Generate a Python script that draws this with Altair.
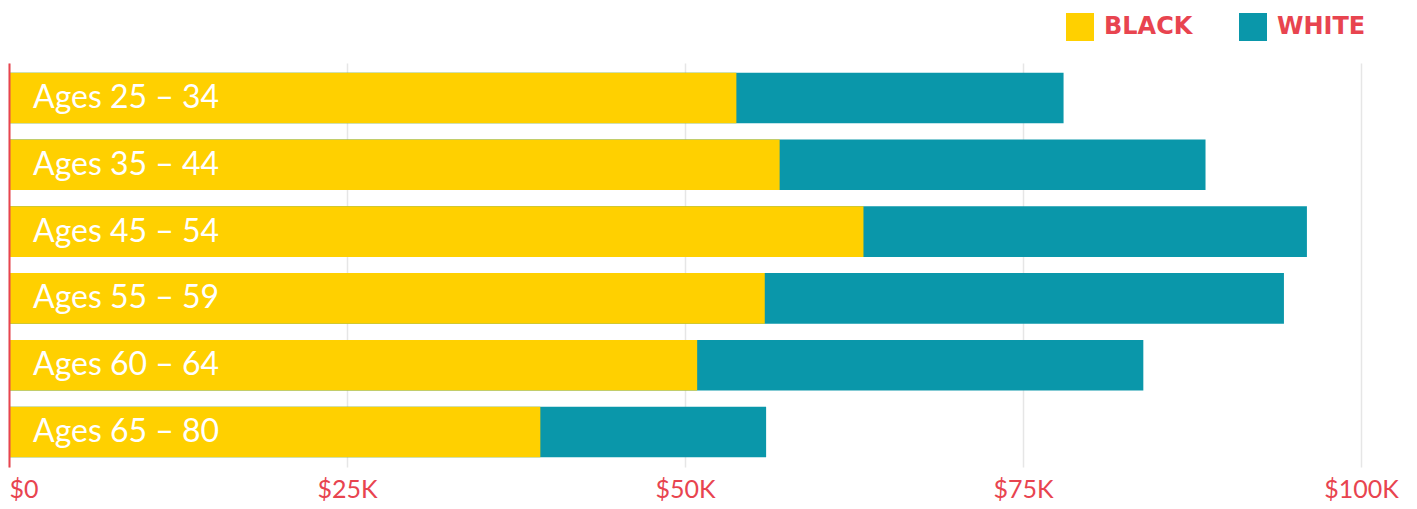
import altair as alt
import pandas as pd

ages = ["Ages 25 – 34", "Ages 35 – 44", "Ages 45 – 54", "Ages 55 – 59", "Ages 60 – 64", "Ages 65 – 80"]
black = [53800, 57000, 63200, 55900, 50900, 39300]
white = [78000, 88500, 96000, 94300, 83900, 56000]
groups = ["BLACK", "WHITE"]
colors = ["#FFD000", "#0A97AA"]
ticks = [0, 25000, 50000, 75000, 100000]

RED = "#E8444F"
FONT = "Lato"

rows = []
for a, w in zip(ages, white):
    rows.append({"age": a, "group": "WHITE", "value": w})
for a, b in zip(ages, black):
    rows.append({"age": a, "group": "BLACK", "value": b})
df = pd.DataFrame(rows)
lab = pd.DataFrame({"age": ages})

yenc = alt.Y("age:N", sort=ages,
             scale=alt.Scale(paddingInner=0.243, paddingOuter=0.146),
             axis=alt.Axis(labels=False, ticks=False, title=None, domainColor=RED,
                           domainWidth=2, grid=False, zindex=1))

bars = alt.Chart(df).mark_bar().encode(
    x=alt.X("value:Q", stack=None,
            scale=alt.Scale(domain=[0, 100000], nice=False),
            axis=alt.Axis(values=ticks, title=None, ticks=False, domain=False,
                          labelExpr="'$' + (datum.value == 0 ? '0' : datum.value/1000 + 'K')",
                          labelColor=RED, labelFont=FONT, labelFontSize=25,
                          labelFlush=False, labelBaseline="alphabetic",
                          labelAlign={"condition": {"test": "datum.value == 0", "value": "left"},
                                      "value": "center"},
                          labelPadding=30, gridColor="#E6E6E6", gridWidth=1.5)),
    y=yenc,
    color=alt.Color("group:N", scale=alt.Scale(domain=groups, range=colors),
                    legend=alt.Legend(title=None, orient="none", direction="horizontal",
                                      legendX=1057, legendY=-50,
                                      symbolType="square", symbolSize=784,
                                      symbolStrokeWidth=0, symbolOpacity=1,
                                      labelFont="DejaVu Sans", labelFontWeight="bold",
                                      labelFontSize=24, labelColor=RED,
                                      labelOffset=10, columnPadding=46)),
    order=alt.Order("group:N", sort="descending"),
)

text = alt.Chart(lab).mark_text(align="left", baseline="middle", color="white",
                                font=FONT, fontSize=32).encode(
    x=alt.value(24),
    y=alt.Y("age:N", sort=ages),
    text="age:N",
)

chart = alt.layer(bars, text).properties(
    width=1352, height=404,
    autosize=alt.AutoSizeParams(type="none"),
    padding={"left": 1, "top": 55, "right": 48, "bottom": 34},
).configure_view(stroke=None)

chart.save("out.html", embed_options={"renderer": "svg", "actions": False})
